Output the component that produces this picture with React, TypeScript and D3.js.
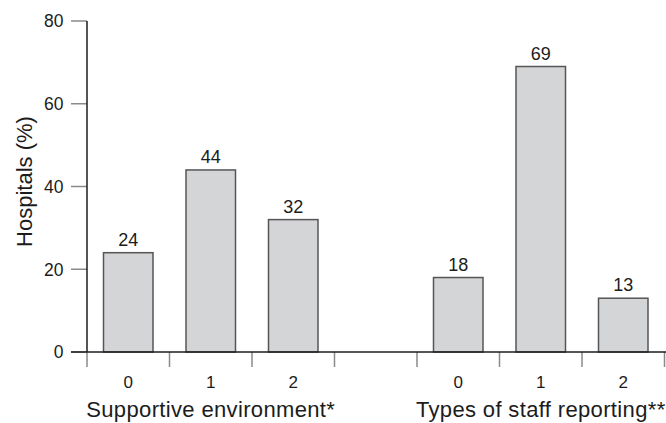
import React from "react";
import * as d3 from "d3";

const groups = ["Supportive environment*", "Types of staff reporting**"];
const groupCategories = [["0", "1", "2"], ["0", "1", "2"]];
const groupValues = [[24, 44, 32], [18, 69, 13]];
const yTicks = [0, 20, 40, 60, 80];
const yTitle = "Hospitals (%)";

const W = 666;
const H = 423;
const FONT = "'Liberation Sans', Arial, Helvetica, sans-serif";

type Bar = { key: string; group: number; cat: string; value: number };

const bars: Bar[] = [];
const slotKeys: string[] = [];
groups.forEach((_, gi) => {
  if (gi > 0) slotKeys.push(`gap${gi}`);
  groupCategories[gi].forEach((c, ci) => {
    const key = `${gi}-${c}`;
    slotKeys.push(key);
    bars.push({ key, group: gi, cat: c, value: groupValues[gi][ci] });
  });
});

export default function App() {
  const x0 = 87;
  const x1 = 664.5;
  const yBase = 352;
  const yTop = 21;

  const x = d3
    .scaleBand<string>()
    .domain(slotKeys)
    .range([x0, x1])
    .paddingInner(0.4)
    .paddingOuter(0.2);
  const step = x.step();
  const y = d3.scaleLinear().domain([0, 80]).range([yBase, yTop]);

  const boundaries = d3.range(slotKeys.length + 1).map((i) => x0 + i * step);

  const groupCenter = (gi: number) => {
    const keys = groupCategories[gi].map((c) => `${gi}-${c}`);
    const a = x(keys[0])! - step * 0.2;
    const b = x(keys[keys.length - 1])! + x.bandwidth() + step * 0.2;
    return (a + b) / 2;
  };

  const textColor = "#1c1c1c";

  return (
    <div style={{ position: "fixed", left: 0, top: 0, width: W, height: H, background: "#fff" }}>
      <svg width={W} height={H} style={{ display: "block" }} fontFamily={FONT}>
        {/* y ticks */}
        {yTicks.map((t) => (
          <g key={t}>
            <line x1={71} x2={x0} y1={y(t)} y2={y(t)} stroke="#8a8a8a" strokeWidth={1.5} />
            <text x={63.5} y={y(t)} dy="0.36em" textAnchor="end" fontSize={17.5} fill={textColor}>
              {t}
            </text>
          </g>
        ))}
        {/* bars */}
        {bars.map((b) => (
          <g key={b.key}>
            <rect
              x={x(b.key)!}
              y={y(b.value)}
              width={x.bandwidth()}
              height={yBase - y(b.value)}
              fill="#d4d5d7"
              stroke="#555"
              strokeWidth={1.5}
            />
            <text
              x={x(b.key)! + x.bandwidth() / 2}
              y={y(b.value) - 7}
              textAnchor="middle"
              fontSize={18}
              fill={textColor}
            >
              {b.value}
            </text>
            <text
              x={x(b.key)! + x.bandwidth() / 2}
              y={388}
              textAnchor="middle"
              fontSize={17}
              fill={textColor}
            >
              {b.cat}
            </text>
          </g>
        ))}
        {/* x ticks */}
        {boundaries.map((bx, i) => (
          <line key={i} x1={bx} x2={bx} y1={yBase} y2={367} stroke="#8a8a8a" strokeWidth={1.5} />
        ))}
        {/* axes */}
        <line x1={x0} x2={x0} y1={yTop} y2={yBase} stroke="#1c1c1c" strokeWidth={1.5} />
        <line x1={71} x2={W} y1={yBase} y2={yBase} stroke="#1c1c1c" strokeWidth={1.5} />
        {/* group titles */}
        {groups.map((g, gi) => (
          <text
            key={g}
            x={groupCenter(gi)}
            y={417}
            textAnchor="middle"
            fontSize={22}
            letterSpacing={0.35}
            fill={textColor}
          >
            {g}
          </text>
        ))}
        {/* y title */}
        <text
          transform={`translate(31.5, 181.5) rotate(-90)`}
          textAnchor="middle"
          fontSize={22}
          fill={textColor}
        >
          {yTitle}
        </text>
      </svg>
    </div>
  );
}
